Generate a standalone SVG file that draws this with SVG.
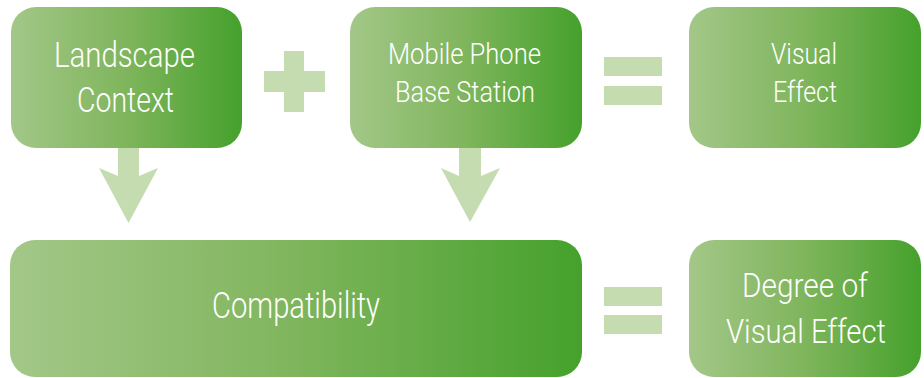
<svg xmlns="http://www.w3.org/2000/svg" width="924" height="378" viewBox="0 0 924 378">
  <defs>
    <linearGradient id="boxFill" x1="0" y1="0" x2="1" y2="0">
      <stop offset="0" stop-color="#a3c788"/>
      <stop offset="0.5" stop-color="#7fb55c"/>
      <stop offset="1" stop-color="#45a12c"/>
    </linearGradient>
    <style>
      .box { fill: url(#boxFill); }
      .sym { fill: #c5dbb0; }
      .lbl { font-family: Roboto, "Liberation Sans", sans-serif; font-weight: 300; fill: #ffffff; text-anchor: middle; }
    </style>
  </defs>

  <!-- connectors: arrows and operator signs -->
  <g id="connectors">
    <polygon class="sym" points="118,146 139,146 139,176 158,168 128.5,223 99,168 118,176"/>
    <polygon class="sym" points="459,146 481,146 481,176 500,168 470,222 441,168 459,176"/>
    <!-- plus -->
    <rect class="sym" x="284" y="51" width="20" height="61"/>
    <rect class="sym" x="264" y="71" width="61" height="21"/>
    <!-- equals (top row) -->
    <rect class="sym" x="604" y="57" width="58" height="19"/>
    <rect class="sym" x="604" y="86" width="58" height="19"/>
    <!-- equals (bottom row) -->
    <rect class="sym" x="604" y="287" width="58" height="19"/>
    <rect class="sym" x="604" y="315" width="58" height="19"/>
  </g>

  <g id="landscape">
    <rect class="box" x="11" y="7" width="231" height="141" rx="25"/>
    <text class="lbl" x="124.5" y="67" font-size="35" textLength="141" lengthAdjust="spacingAndGlyphs">Landscape</text>
    <text class="lbl" x="125.5" y="112" font-size="35" textLength="97" lengthAdjust="spacingAndGlyphs">Context</text>
  </g>

  <g id="basestation">
    <rect class="box" x="350" y="7" width="232" height="141" rx="25"/>
    <text class="lbl" x="464.5" y="64" font-size="30" textLength="153" lengthAdjust="spacingAndGlyphs">Mobile Phone</text>
    <text class="lbl" x="465" y="102" font-size="30" textLength="140" lengthAdjust="spacingAndGlyphs">Base Station</text>
  </g>

  <g id="visualeffect">
    <rect class="box" x="689" y="7" width="232" height="141" rx="25"/>
    <text class="lbl" x="804" y="64" font-size="30" textLength="66" lengthAdjust="spacingAndGlyphs">Visual</text>
    <text class="lbl" x="805" y="102" font-size="30" textLength="64" lengthAdjust="spacingAndGlyphs">Effect</text>
  </g>

  <g id="compatibility">
    <rect class="box" x="10" y="240" width="572" height="137" rx="25"/>
    <text class="lbl" x="296" y="318" font-size="36" textLength="168" lengthAdjust="spacingAndGlyphs">Compatibility</text>
  </g>

  <g id="degree">
    <rect class="box" x="689" y="240" width="232" height="137" rx="25"/>
    <text class="lbl" x="805" y="297" font-size="34" textLength="126" lengthAdjust="spacingAndGlyphs">Degree of</text>
    <text class="lbl" x="806" y="343" font-size="34" textLength="160" lengthAdjust="spacingAndGlyphs">Visual Effect</text>
  </g>
</svg>
